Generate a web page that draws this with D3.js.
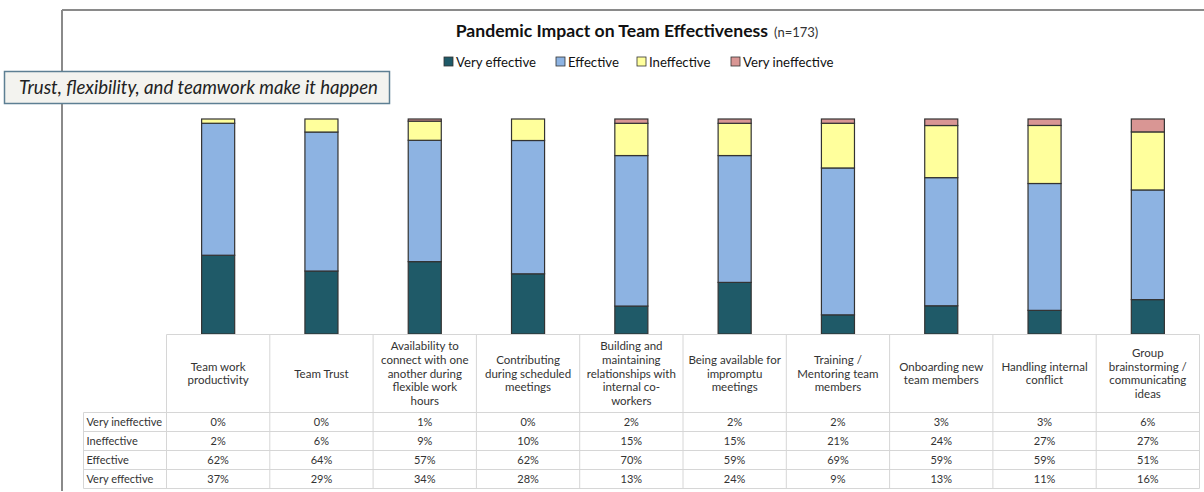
<!DOCTYPE html>
<html>
<head>
<meta charset="utf-8">
<script src="https://cdn.jsdelivr.net/npm/d3@7"></script>
<style>
  body { margin: 0; background: #fff; }
  svg { display: block; font-family: Lato, "Open Sans", sans-serif; }
</style>
</head>
<body>
<svg id="chart" width="1204" height="492"></svg>
<script>
// categories (header text lines split by "\n")
const categories = [
  "Team work\nproductivity",
  "Team Trust",
  "Availability to\nconnect with one\nanother during\nflexible work\nhours",
  "Contributing\nduring scheduled\nmeetings",
  "Building and\nmaintaining\nrelationships with\ninternal co-\nworkers",
  "Being available for\nimpromptu\nmeetings",
  "Training /\nMentoring team\nmembers",
  "Onboarding new\nteam members",
  "Handling internal\nconflict",
  "Group\nbrainstorming /\ncommunicating\nideas"
];

const seriesNames = ["Very effective", "Effective", "Ineffective", "Very ineffective"];
const veryEffective   = [37, 29, 34, 28, 13, 24, 9, 13, 11, 16];
const effective       = [62, 64, 57, 62, 70, 59, 69, 59, 59, 51];
const ineffective     = [2, 6, 9, 10, 15, 15, 21, 24, 27, 27];
const veryIneffective = [0, 0, 1, 0, 2, 2, 2, 3, 3, 6];
const colors = ["#1f5a68", "#8db3e2", "#ffff9c", "#d99694"];

const svg = d3.select("#chart");

// frame lines
svg.append("line").attr("x1", 62).attr("x2", 1204).attr("y1", 10).attr("y2", 10)
  .attr("stroke", "#8a8a8a").attr("stroke-width", 2);
svg.append("line").attr("x1", 62).attr("x2", 62).attr("y1", 10).attr("y2", 491)
  .attr("stroke", "#8a8a8a").attr("stroke-width", 2);

// title
const title = svg.append("text").attr("x", 637).attr("y", 37).attr("text-anchor", "middle")
  .attr("fill", "#111");
title.append("tspan").attr("font-weight", "bold").attr("font-size", 17.6)
  .text("Pandemic Impact on Team Effectiveness");
title.append("tspan").attr("font-size", 13).attr("dx", 6).attr("fill", "#333").text("(n=173)");

// legend
const legendX = [444, 556, 637, 731];
const legend = svg.selectAll(".legend")
  .data(seriesNames)
  .join("g")
  .attr("class", "legend")
  .attr("transform", (d, i) => `translate(${legendX[i]},57)`);
legend.append("rect").attr("width", 9).attr("height", 9)
  .attr("fill", (d, i) => colors[i]).attr("stroke", "#333").attr("stroke-width", 0.8);
legend.append("text").attr("x", 12).attr("y", 9.5).attr("font-size", 13.2).attr("fill", "#111")
  .text(d => d);

// scales
const x = d3.scaleBand()
  .domain(d3.range(categories.length))
  .range([166.5, 1199.5])
  .paddingInner(0.68)
  .paddingOuter(0.34);
const y = d3.scaleLinear().domain([0, 1]).range([334, 119]);

// 100% stacked data
const table = categories.map((c, i) => {
  const total = veryEffective[i] + effective[i] + ineffective[i] + veryIneffective[i];
  return {
    i,
    "Very effective": veryEffective[i] / total,
    "Effective": effective[i] / total,
    "Ineffective": ineffective[i] / total,
    "Very ineffective": veryIneffective[i] / total
  };
});
const stacked = d3.stack().keys(seriesNames)(table);

svg.append("g").selectAll("g")
  .data(stacked)
  .join("g")
  .attr("fill", (d, i) => colors[i])
  .selectAll("rect")
  .data(d => d)
  .join("rect")
  .attr("x", d => x(d.data.i))
  .attr("width", x.bandwidth())
  .attr("y", d => y(d[1]))
  .attr("height", d => y(d[0]) - y(d[1]))
  .attr("stroke", "#333")
  .attr("stroke-width", 1.2);

// data table
const grid = "#d6d6d6";
const headerTop = 334.5, headerBottom = 412.5;
const rowH = 19;
const labelLeft = 83.5;
const colLeft = 166.5, colRight = 1199.5;
const step = x.step();

const rowLabels = ["Very ineffective", "Ineffective", "Effective", "Very effective"];
const rowValues = [veryIneffective, ineffective, effective, veryEffective];

const tg = svg.append("g");
tg.append("line").attr("x1", colLeft).attr("x2", colRight).attr("y1", headerTop).attr("y2", headerTop)
  .attr("stroke", grid);
for (let r = 0; r <= rowLabels.length; r++) {
  tg.append("line").attr("x1", labelLeft).attr("x2", colRight)
    .attr("y1", headerBottom + r * rowH).attr("y2", headerBottom + r * rowH).attr("stroke", grid);
}
tg.append("line").attr("x1", labelLeft).attr("x2", labelLeft)
  .attr("y1", headerBottom).attr("y2", headerBottom + rowLabels.length * rowH).attr("stroke", grid);
d3.range(categories.length + 1).forEach(k => {
  tg.append("line").attr("x1", colLeft + k * step).attr("x2", colLeft + k * step)
    .attr("y1", headerTop).attr("y2", headerBottom + rowLabels.length * rowH).attr("stroke", grid);
});

// header text
const lineH = 13.6;
categories.forEach((c, i) => {
  const lines = c.split("\n");
  const cx = x(i) + x.bandwidth() / 2;
  const midY = (headerTop + headerBottom) / 2;
  const t = tg.append("text").attr("text-anchor", "middle").attr("font-size", 11.5).attr("fill", "#333");
  lines.forEach((l, j) => {
    t.append("tspan").attr("x", cx)
      .attr("y", midY + (j - (lines.length - 1) / 2) * lineH + 4)
      .text(l);
  });
});

// rows
rowLabels.forEach((lab, r) => {
  const yy = headerBottom + r * rowH + rowH / 2 + 4;
  tg.append("text").attr("x", labelLeft + 3).attr("y", yy).attr("font-size", 11).attr("fill", "#333")
    .text(lab);
  rowValues[r].forEach((v, i) => {
    tg.append("text").attr("x", x(i) + x.bandwidth() / 2).attr("y", yy).attr("text-anchor", "middle")
      .attr("font-size", 11).attr("fill", "#333").text(v + "%");
  });
});

// callout box
svg.append("rect").attr("x", 4.5).attr("y", 71.5).attr("width", 385).attr("height", 32)
  .attr("fill", "#f3f3ef").attr("stroke", "#5d7f93").attr("stroke-width", 1.5);
svg.append("text").attr("x", 19).attr("y", 94).attr("font-size", 18.6).attr("font-style", "italic")
  .attr("fill", "#222").text("Trust, flexibility, and teamwork make it happen");
</script>
</body>
</html>
